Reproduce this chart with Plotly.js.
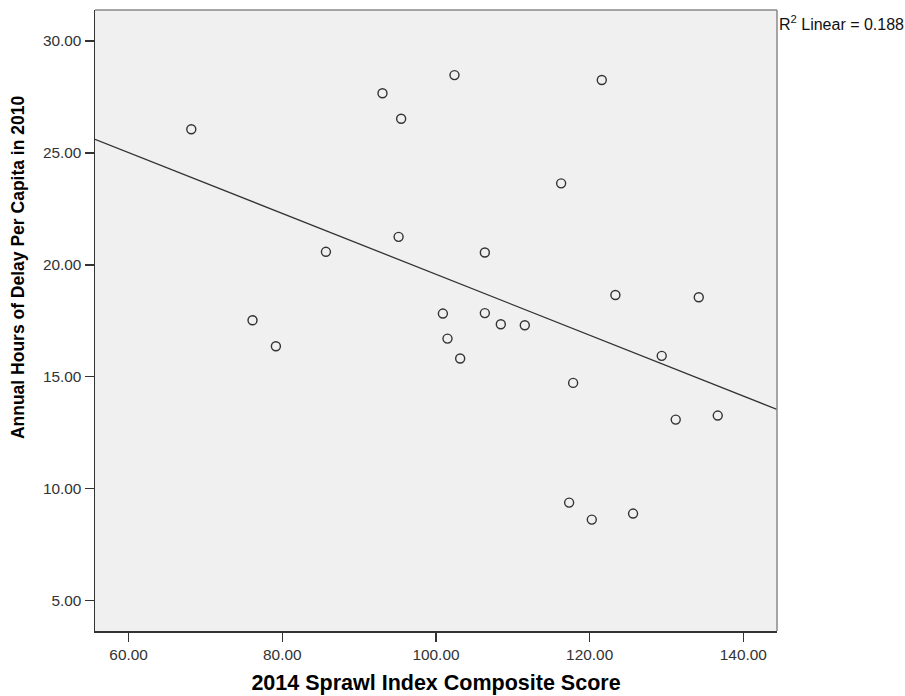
<!DOCTYPE html>
<html>
<head>
<meta charset="utf-8">
<script src="https://cdn.plot.ly/plotly-3.0.1.min.js"></script>
<style>html,body{margin:0;padding:0;background:#fff;}#chart{width:905px;height:696px;}</style>
</head>
<body>
<div id="chart"></div>
<script>
// Data
const sprawlScore = [68.16, 76.13, 79.17, 85.68, 93.04, 95.47, 95.14, 102.41, 100.9, 101.5, 103.15, 106.36, 106.36, 108.44, 111.56, 116.29, 117.85, 121.58, 123.35, 129.38, 131.2, 134.2, 136.67, 117.33, 120.28, 125.65];
const delayHours = [26.06, 17.52, 16.36, 20.58, 27.67, 26.53, 21.25, 28.48, 17.82, 16.70, 15.81, 17.84, 20.55, 17.34, 17.30, 23.64, 14.72, 28.26, 18.65, 15.93, 13.08, 18.55, 13.26, 9.37, 8.61, 8.88];
const xTicks = [60, 80, 100, 120, 140];
const yTicks = [5, 10, 15, 20, 25, 30];
const xRange = [55.63, 144.38];
const yRange = [3.63, 31.39];
const xTitle = '2014 Sprawl Index Composite Score';
const yTitle = 'Annual Hours of Delay Per Capita in 2010';
const fitLabel = 'R<sup>2</sup> Linear = 0.188';

// least squares fit line
const n = sprawlScore.length;
const mx = sprawlScore.reduce((a,b)=>a+b,0)/n;
const my = delayHours.reduce((a,b)=>a+b,0)/n;
let sxy=0, sxx=0;
for (let i=0;i<n;i++){ sxy+=(sprawlScore[i]-mx)*(delayHours[i]-my); sxx+=(sprawlScore[i]-mx)**2; }
const slope = sxy/sxx, intercept = my - slope*mx;
const fitX = xRange.slice();
const fitY = fitX.map(v => intercept + slope*v);

const fam = 'Liberation Sans, Arial, sans-serif';
const tickFont = {family: fam, size: 15.4, color: '#333'};

const traces = [
  {x: fitX, y: fitY, mode: 'lines', line: {color: '#333', width: 1.3}, hoverinfo: 'skip', showlegend: false},
  {x: sprawlScore, y: delayHours, mode: 'markers', showlegend: false,
   marker: {symbol: 'circle-open', size: 9, color: '#333', line: {width: 1.4, color: '#333'}}}
];

const layout = {
  width: 905, height: 696,
  margin: {l: 95, r: 128, t: 10, b: 65},
  paper_bgcolor: '#ffffff',
  plot_bgcolor: '#f0f0f0',
  showlegend: false,
  xaxis: {
    range: xRange, tickvals: xTicks, tickformat: '.2f',
    showgrid: false, zeroline: false,
    showline: true, linecolor: '#333', linewidth: 1.5,
    ticks: 'outside', ticklen: 9, tickwidth: 1.5, tickcolor: '#333',
    tickfont: tickFont, automargin: false,
    title: {text: xTitle, font: {family: fam, size: 21.5, color: '#000', weight: 'bold'}, standoff: 13}
  },
  yaxis: {
    range: yRange, tickvals: yTicks, tickformat: '.2f',
    showgrid: false, zeroline: false,
    showline: true, linecolor: '#333', linewidth: 1.5,
    ticks: 'outside', ticklen: 9, tickwidth: 1.5, tickcolor: '#333',
    tickfont: tickFont, automargin: false
  },
  shapes: [
    {type: 'line', xref: 'paper', yref: 'paper', x0: 0, x1: 1, y0: 1, y1: 1, line: {color: '#888', width: 1.5}},
    {type: 'line', xref: 'paper', yref: 'paper', x0: 1, x1: 1, y0: 0, y1: 1, line: {color: '#888', width: 1.5}}
  ],
  annotations: [
    {xref: 'paper', yref: 'paper', x: 1, y: 1, xanchor: 'left', yanchor: 'top', xshift: 0, yshift: -1,
     text: fitLabel, showarrow: false, align: 'left',
     font: {family: fam, size: 16, color: '#111'}},
    {xref: 'paper', yref: 'paper', x: 0, y: 0.586, xanchor: 'center', yanchor: 'middle', xshift: -77,
     text: yTitle, textangle: -90, showarrow: false,
     font: {family: fam, size: 17.5, color: '#000', weight: 'bold'}}
  ]
};

Plotly.newPlot('chart', traces, layout, {displayModeBar: false, staticPlot: true});
</script>
</body>
</html>
